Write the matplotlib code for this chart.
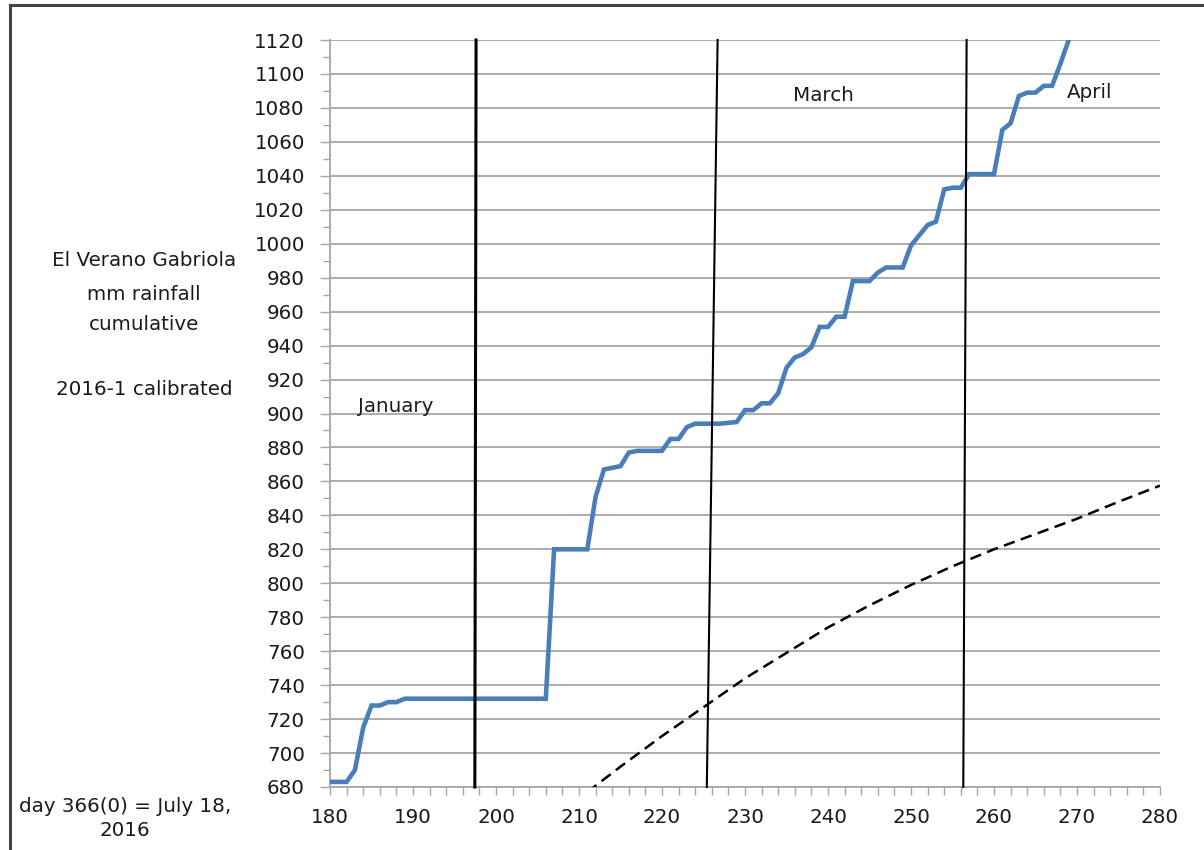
import matplotlib
matplotlib.use("Agg")
import matplotlib.pyplot as plt
from matplotlib.ticker import MultipleLocator
from matplotlib.lines import Line2D

# ---- data ----
rain_days = [180, 182, 183, 184, 185, 186, 187, 188, 189, 206, 207, 211, 212, 213,
             215, 216, 217, 220, 221, 222, 223, 224, 227, 229, 230, 231, 232, 233,
             234, 235, 236, 237, 238, 239, 240, 241, 242, 243, 245, 246, 247, 249,
             250, 251, 252, 253, 254, 255, 256, 257, 260, 261, 262, 263, 264, 265,
             266, 267, 268, 269, 270]
rain_mm = [683, 683, 690, 715, 728, 728, 730, 730, 732, 732, 820, 820, 851, 867,
           869, 877, 878, 878, 885, 885, 892, 894, 894, 895, 902, 902, 906, 906,
           912, 927, 933, 935, 939, 951, 951, 957, 957, 978, 978, 983, 986, 986,
           999, 1005, 1011, 1013, 1032, 1033, 1033, 1041, 1041, 1067, 1071, 1087, 1089, 1089,
           1093, 1093, 1106, 1120, 1134]

avg_days = [211, 215, 220, 225, 230, 235, 240, 245, 250, 255, 260, 265, 270, 275, 280]
avg_mm = [677, 692, 710, 727, 744, 759, 774, 787, 799, 810, 820, 829, 838, 848, 857.5]

# month boundary lines: (x at bottom, x at top)
month_lines_x = [(197.45, 197.6), (225.4, 226.7), (256.3, 256.7)]
month_line_widths = [2.2, 1.5, 1.5]

month_labels = ["January", "March", "April"]
month_label_x = [183.4, 235.8, 268.8]
month_label_y = [904, 1087.5, 1089]

title_lines = ["El Verano Gabriola", "mm rainfall", "cumulative", "", "2016-1 calibrated"]
note_lines = ["day 366(0) = July 18,", "2016"]

x_min, x_max = 180, 280
y_min, y_max = 680, 1120

# ---- figure ----
W, H = 1204, 850
fig = plt.figure(figsize=(W / 100, H / 100), dpi=100)
fig.patch.set_facecolor("white")
ax = fig.add_axes([330 / W, 1 - 787 / H, (1160 - 330) / W, (787 - 40) / H])

grid_col = "#A6A6A6"
txt_col = "#1a1a1a"
fs = 14.3
ax.set_xlim(x_min, x_max)
ax.set_ylim(y_min, y_max)
ax.xaxis.set_major_locator(MultipleLocator(10))
ax.xaxis.set_minor_locator(MultipleLocator(2))
ax.yaxis.set_major_locator(MultipleLocator(20))
ax.yaxis.set_minor_locator(MultipleLocator(10))
ax.grid(axis="y", which="major", color=grid_col, linewidth=1.3)
ax.set_axisbelow(True)
for s in ["top", "right"]:
    ax.spines[s].set_visible(False)
for s in ["left", "bottom"]:
    ax.spines[s].set_color(grid_col)
    ax.spines[s].set_linewidth(1.3)
ax.tick_params(axis="both", which="both", direction="out", color=grid_col, width=1.0)
ax.tick_params(axis="y", which="major", length=7, pad=11, labelsize=fs, labelcolor=txt_col)
ax.tick_params(axis="y", which="minor", length=5)
ax.tick_params(axis="x", which="major", length=6, pad=9, labelsize=fs, labelcolor=txt_col)
ax.tick_params(axis="x", which="minor", length=6)

# series
ax.plot(rain_days, rain_mm, color="#4A7EBB", linewidth=3.3, solid_joinstyle="miter", zorder=4)
ax.plot(avg_days, avg_mm, color="black", linewidth=1.8, linestyle=(0, (4.6, 2.6)), zorder=3)
for (xb, xt), lw in zip(month_lines_x, month_line_widths):
    ax.plot([xb, xt], [y_min, y_max], color="black", linewidth=lw, zorder=5, clip_on=False)

for lab, lx, ly in zip(month_labels, month_label_x, month_label_y):
    ax.text(lx, ly, lab, fontsize=fs, color=txt_col, ha="left", va="center", zorder=6)

# left text block
ys = [261, 294, 325, 357, 390]
for t, yp in zip(title_lines, ys):
    if t:
        fig.text(144 / W, 1 - yp / H, t, fontsize=fs, ha="center", va="center", color=txt_col)
for t, yp in zip(note_lines, [806, 831]):
    fig.text(125 / W, 1 - yp / H, t, fontsize=fs, ha="center", va="center", color=txt_col)

# chart border (left and top)
fig.add_artist(Line2D([10 / W, 10 / W], [0, 1 - 5 / H], transform=fig.transFigure,
                      color="#444444", linewidth=2.2))
fig.add_artist(Line2D([10 / W, 1202 / W], [1 - 5 / H, 1 - 5 / H], transform=fig.transFigure,
                      color="#444444", linewidth=2.2))

fig.savefig("out.png", dpi=100, facecolor="white")
